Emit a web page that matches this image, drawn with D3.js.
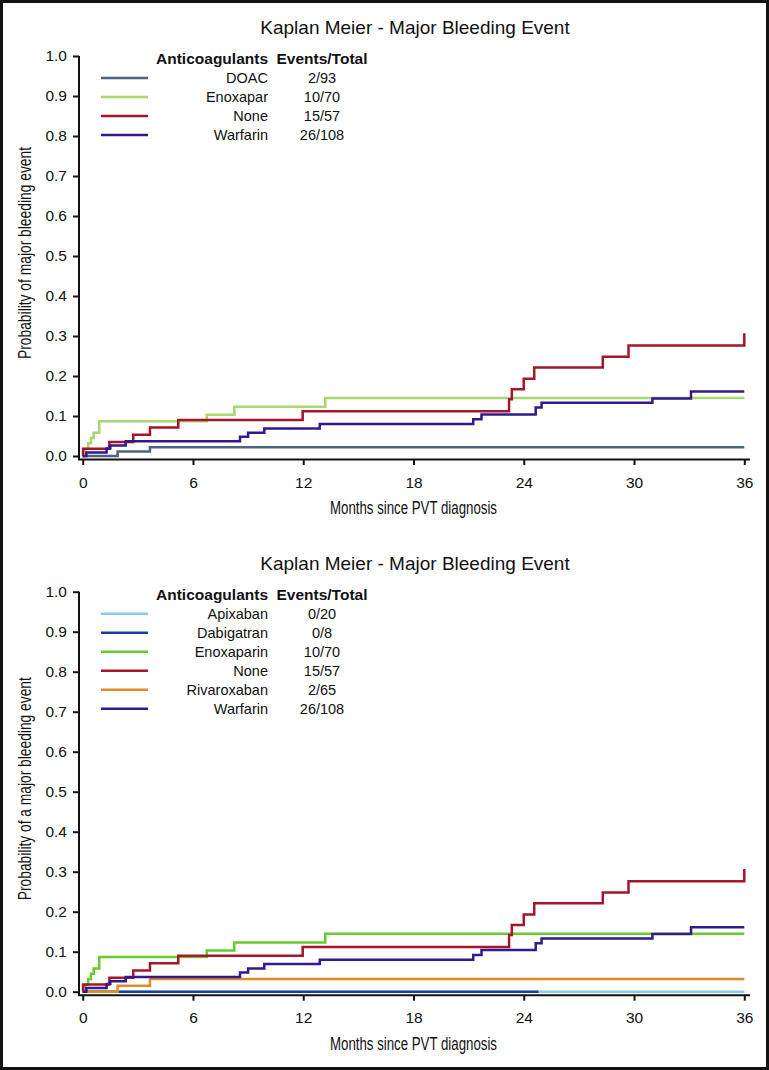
<!DOCTYPE html>
<html>
<head>
<meta charset="utf-8">
<script src="https://cdn.jsdelivr.net/npm/d3@7"></script>
<style>
  body { margin: 0; background: #fff; }
  svg { display: block; }
</style>
</head>
<body>
<div id="chart"></div>
<script>
// KM step curves: months since diagnosis, cumulative probability
var doacT = [0, 1.9, 3.66, 36];
var doacP = [0, 0.011, 0.022, 0.022];

var enoxT = [0, 0.15, 0.3, 0.45, 0.6, 0.9, 6.75, 8.25, 13.2, 36];
var enoxP = [0, 0.018, 0.032, 0.045, 0.058, 0.087, 0.103, 0.123, 0.145, 0.145];

var noneT = [0, 0.02, 1.45, 2.75, 3.66, 5.2, 11.97, 23.2, 23.35, 24.0, 24.57, 28.3, 29.7, 36];
var noneP = [0, 0.018, 0.035, 0.053, 0.071, 0.09, 0.112, 0.142, 0.167, 0.193, 0.221, 0.248, 0.276, 0.307];

var warfT = [0, 0.2, 1.3, 1.5, 2.34, 8.56, 9.0, 9.88, 12.9, 21.25, 21.7, 24.65, 24.97, 31.0, 33.1, 36];
var warfP = [0, 0.009, 0.019, 0.026, 0.037, 0.048, 0.058, 0.069, 0.08, 0.092, 0.104, 0.121, 0.133, 0.144, 0.161, 0.161];

var apixT = [0, 36];
var apixP = [0, 0];

var dabiT = [0, 24.8];
var dabiP = [0, 0];

var rivaT = [0, 1.9, 3.66, 36];
var rivaP = [0, 0.015, 0.032, 0.032];

// legend tables
var topNames  = ["DOAC", "Enoxapar", "None", "Warfarin"];
var topEvents = ["2/93", "10/70", "15/57", "26/108"];
var botNames  = ["Apixaban", "Dabigatran", "Enoxaparin", "None", "Rivaroxaban", "Warfarin"];
var botEvents = ["0/20", "0/8", "10/70", "15/57", "2/65", "26/108"];

var xTicks = [0, 6, 12, 18, 24, 30, 36];
var yTicks = [0, 0.1, 0.2, 0.3, 0.4, 0.5, 0.6, 0.7, 0.8, 0.9, 1.0];

var topColors = ["#4d6480", "#a9d86e", "#a3162b", "#35188c"];
var botColors = ["#8ccbee", "#1c3c9c", "#66cc2c", "#a3162b", "#e08b23", "#35188c"];

function zip(t, p) { return t.map(function(d, i) { return [d, p[i]]; }); }

var topSeries = [zip(doacT, doacP), zip(enoxT, enoxP), zip(noneT, noneP), zip(warfT, warfP)];
var botSeries = [zip(apixT, apixP), zip(dabiT, dabiP), zip(enoxT, enoxP), zip(noneT, noneP), zip(rivaT, rivaP), zip(warfT, warfP)];

var width = 769, height = 1070;
var font = "'Liberation Sans', Arial, Helvetica, sans-serif";
var narrow = "'Liberation Sans Narrow', 'Arial Narrow', 'Liberation Sans', sans-serif";

var svg = d3.select("#chart").append("svg")
    .attr("width", width)
    .attr("height", height);

svg.append("rect")
    .attr("x", 1.5).attr("y", 1.5)
    .attr("width", width - 3).attr("height", height - 3)
    .attr("fill", "#fff")
    .attr("stroke", "#111")
    .attr("stroke-width", 3);

function panel(offsetY, series, colors, names, events, ylabel, ylabelLen) {
  var g = svg.append("g").attr("transform", "translate(0," + offsetY + ")");

  var x = d3.scaleLinear().domain([0, 36]).range([82.7, 744.3]);
  var y = d3.scaleLinear().domain([0, 1]).range([456, 56]);
  var axisX = 79, axisY = 459.5;

  g.append("text")
      .attr("x", 415).attr("y", 34)
      .attr("text-anchor", "middle")
      .style("font-family", font)
      .style("font-size", "19px")
      .style("fill", "#111")
      .text("Kaplan Meier - Major Bleeding Event");

  // y axis
  var ya = g.append("g")
      .attr("transform", "translate(" + axisX + ",0)")
      .call(d3.axisLeft(y).tickValues(yTicks).tickSize(6).tickPadding(6)
            .tickFormat(d3.format(".1f")));
  ya.select(".domain").remove();
  ya.selectAll("line").attr("stroke", "#111").attr("stroke-width", 2);
  ya.selectAll("text").style("font-family", font).style("font-size", "15.5px").style("fill", "#111");

  // x axis
  var xa = g.append("g")
      .attr("transform", "translate(0," + axisY + ")")
      .call(d3.axisBottom(x).tickValues(xTicks).tickSize(5.5).tickPadding(11.5));
  xa.select(".domain").remove();
  xa.selectAll("line").attr("stroke", "#111").attr("stroke-width", 2);
  xa.selectAll("text").style("font-family", font).style("font-size", "15.5px").style("fill", "#111");

  g.append("path")
      .attr("d", "M" + axisX + "," + y(1) + "V" + axisY + "H750")
      .attr("fill", "none")
      .attr("stroke", "#111")
      .attr("stroke-width", 2);

  g.append("text")
      .attr("x", 413.5).attr("y", 514)
      .attr("text-anchor", "middle")
      .attr("textLength", 167)
      .attr("lengthAdjust", "spacingAndGlyphs")
      .style("font-family", narrow)
      .style("font-size", "17.5px")
      .style("fill", "#111")
      .text("Months since PVT diagnosis");

  g.append("text")
      .attr("transform", "translate(31,253) rotate(-90)")
      .attr("text-anchor", "middle")
      .attr("textLength", ylabelLen)
      .attr("lengthAdjust", "spacingAndGlyphs")
      .style("font-family", narrow)
      .style("font-size", "17.5px")
      .style("fill", "#111")
      .text(ylabel);

  // curves
  var line = d3.line()
      .x(function(d) { return x(d[0]); })
      .y(function(d) { return y(d[1]); })
      .curve(d3.curveStepAfter);

  g.selectAll("path.km")
      .data(series)
      .enter().append("path")
      .attr("class", "km")
      .attr("d", line)
      .attr("fill", "none")
      .attr("stroke", function(d, i) { return colors[i]; })
      .attr("stroke-width", 2.5);

  // legend
  g.append("text")
      .attr("x", 268).attr("y", 64)
      .attr("text-anchor", "end")
      .style("font-family", font).style("font-weight", "bold")
      .style("font-size", "15.5px").style("fill", "#111")
      .text("Anticoagulants");
  g.append("text")
      .attr("x", 322).attr("y", 64)
      .attr("text-anchor", "middle")
      .style("font-family", font).style("font-weight", "bold")
      .style("font-size", "15.5px").style("fill", "#111")
      .text("Events/Total");

  var rows = g.selectAll("g.leg")
      .data(names)
      .enter().append("g")
      .attr("class", "leg")
      .attr("transform", function(d, i) { return "translate(0," + (83 + i * 19) + ")"; });
  rows.append("line")
      .attr("x1", 101).attr("x2", 148)
      .attr("y1", -5).attr("y2", -5)
      .attr("stroke", function(d, i) { return colors[i]; })
      .attr("stroke-width", 2.5);
  rows.append("text")
      .attr("x", 268)
      .attr("text-anchor", "end")
      .style("font-family", font).style("font-size", "14.5px").style("fill", "#111")
      .text(function(d) { return d; });
  rows.append("text")
      .attr("x", 322)
      .attr("text-anchor", "middle")
      .style("font-family", font).style("font-size", "14.5px").style("fill", "#111")
      .text(function(d, i) { return events[i]; });
}

panel(0, topSeries, topColors, topNames, topEvents, "Probability of major bleeding event", 212);
panel(535.7, botSeries, botColors, botNames, botEvents, "Probability of a major bleeding event", 223);
</script>
</body>
</html>
